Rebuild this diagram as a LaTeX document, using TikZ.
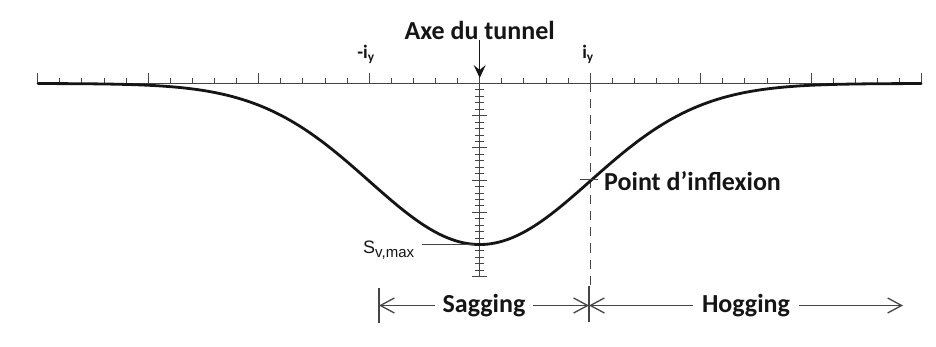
\documentclass[tikz,border=0pt]{standalone}
\usepackage{fontspec}
\setmainfont{Carlito}
\newfontfamily\arialf{Liberation Sans}
\usetikzlibrary{arrows.meta}
\definecolor{ink}{HTML}{151515}
\definecolor{gline}{HTML}{454545}
\begin{document}
\begin{tikzpicture}[x=1pt,y=-1pt,
  lbl/.style={font=\bfseries\fontsize{26}{30}\selectfont, text=ink, inner sep=0pt},
  smalllbl/.style={font=\bfseries\fontsize{19}{22}\selectfont, text=ink, inner sep=0pt},
  axisline/.style={line width=1.4pt, draw=gline},
  tickln/.style={line width=0.9pt, draw=gline},
  curveln/.style={line width=2.8pt, draw=ink, line cap=round},
  dimln/.style={line width=1.3pt, draw=gline},
  barb/.tip={Straight Barb[length=14pt,width=15pt,line width=1.3pt]},
  dashln/.style={line width=1pt, draw=gline, dash pattern=on 9pt off 7pt}
]
\fill[white] (0,0) rectangle (936,347);
\useasboundingbox (0,0) rectangle (936,347);

% horizontal axis with ticks
\coordinate (axL) at (37.7,83.5);
\coordinate (axR) at (922,83.5);
\draw[axisline] (axL) -- (axR);
\foreach \i in {0,...,40}{
  \pgfmathtruncatemacro\m{mod(\i,5)}
  \pgfmathsetmacro\h{ifthenelse(\m==0,10,5.5)}
  \draw[tickln] (37.7+22.1*\i,83.5) -- ++(0,-\h);
}

% vertical axis (tunnel axis) with ticks
\coordinate (vTop) at (479.7,83.5);
\coordinate (vBot) at (479.7,276.7);
\draw[tickln, line width=1.2pt] (vTop) -- (vBot);
\foreach \k in {1,...,30}{
  \pgfmathtruncatemacro\m{mod(\k,5)}
  \pgfmathsetmacro\w{ifthenelse(\m==0,7.5,4.5)}
  \draw[tickln] (479.7-\w,83.5+6.44*\k) -- (479.7+\w,83.5+6.44*\k);
}

% inflection dashed line
\coordinate (ipTop) at (590.2,83.5);
\coordinate (ipBot) at (590.2,286);
\draw[dashln] (ipTop) -- (ipBot);

% settlement trough
\draw[curveln] plot[domain=-4:4,samples=161,smooth]
  ({479.7+110.4*\x},{83.5+161*exp(-0.5*\x*\x)});

% inflection point tick and label
\coordinate (infL) at (580,179.5);
\coordinate (infR) at (598,179.5);
\draw[tickln, line width=1.2pt] (infL) -- (infR);
\node[lbl, anchor=base west] (pinf) at (604,191) {Point d’inflexion};

% tunnel axis label and arrow
\node[lbl, anchor=base] (axe) at (479.7,40) {Axe du tunnel};
\coordinate (axeTip) at (479.7,78);
\draw[line width=1.3pt, draw=ink, -{Stealth[length=13pt,width=12pt,inset=5pt]}] (axe.south) -- (axeTip);

% i_y labels
\node[smalllbl, anchor=base] (miy) at (366,59) {-i\textsubscript{y}};
\node[smalllbl, anchor=base] (piy) at (588,59) {i\textsubscript{y}};

% s_v,max
\node[anchor=base west, font=\arialf\fontsize{18}{20}\selectfont, text=ink, inner sep=0pt] (smax) at (363,254)
  {S\raisebox{-3pt}{\fontsize{15}{17}\selectfont v,max}};
\coordinate (ldL) at (422,244.5);
\coordinate (ldR) at (474,244.5);
\draw[tickln, line width=1.2pt] (ldL) -- (ldR);

% sagging / hogging dimension lines
\coordinate (sLt) at (379,288);
\coordinate (sLb) at (379,323);
\coordinate (sMt) at (589,286);
\coordinate (sMb) at (589,322);
\draw[dimln] (sLt) -- (sLb);
\draw[dimln] (sMt) -- (sMb);
\coordinate (sL) at (379,305.5);
\coordinate (sM) at (589,305.5);
\coordinate (hR) at (903,305.5);
\draw[dimln, barb-barb] (sL) -- (sM)
  node[midway, lbl, fill=white, inner xsep=8pt, inner ysep=0pt] (sag) {Sagging};
\draw[dimln, barb-barb] (sM) -- (hR)
  node[midway, lbl, fill=white, inner xsep=9pt, inner ysep=0pt] (hog) {Hogging};
\end{tikzpicture}
\end{document}
